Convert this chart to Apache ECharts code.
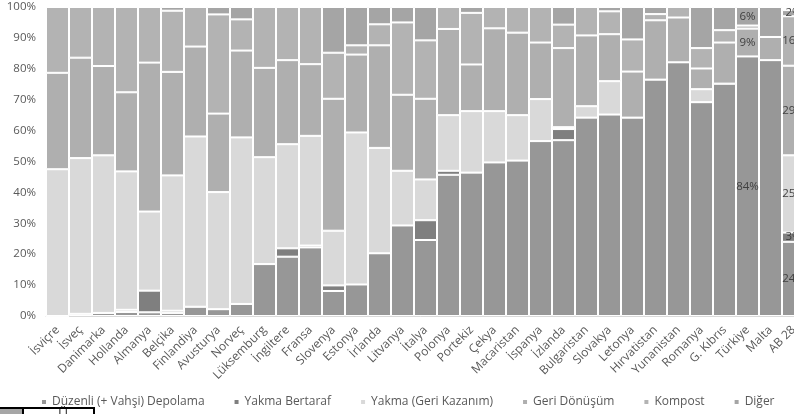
<!DOCTYPE html>
<html>
<head>
<meta charset="utf-8">
<script src="https://cdn.jsdelivr.net/npm/echarts@6/dist/echarts.min.js"></script>
<style>
  html, body { margin: 0; padding: 0; background: #fff; overflow: hidden; }
  #chart { width: 794px; height: 414px; }
</style>
</head>
<body>
<div id="chart"></div>
<script>
// Countries, left to right
var countries = ['İsviçre','İsveç','Danimarka','Hollanda','Almanya','Belçika','Finlandiya','Avusturya','Norveç','Lüksemburg','İngiltere','Fransa','Slovenya','Estonya','İrlanda','Litvanya','İtalya','Polonya','Portekiz','Çekya','Macaristan','İspanya','İzlanda','Bulgaristan','Slovakya','Letonya','Hırvatistan','Yunanistan','Romanya','G. Kıbrıs','Türkiye','Malta','AB 28'];

// Share of municipal waste by treatment method (%)
var depolama    = [0,0.7,1.0,1.3,1.2,1.0,3.0,2.2,3.9,16.8,19.2,22.2,8.1,10.2,20.3,29.3,24.6,45.7,46.4,49.7,50.3,56.6,56.9,64.2,65.2,64.2,76.5,82.1,69.2,75.2,84,82.8,24];
var yakmaBertaraf = [0,0,0,0.7,7.0,0.7,0,0,0,0,2.7,0.6,1.8,0,0,0,6.4,1.3,0,0,0,0,3.6,0,0,0,0,0,0,0,0,0,3];
var yakmaGeriKazanim = [47.5,50.4,51.0,44.8,25.6,43.8,55.1,37.9,53.9,34.6,33.7,35.5,17.7,49.2,34.1,17.7,13.2,18.0,19.9,16.6,14.7,13.6,0.6,3.7,10.8,0,0,0,4.2,0,0,0,25];
var geriDonusum = [31.2,32.5,28.9,25.6,48.2,33.5,29.1,25.4,28.1,28.9,27.2,23.2,42.7,25.2,33.2,24.6,26.1,27.9,15.1,26.8,26.7,18.3,25.6,22.9,15.2,14.9,19.2,14.5,6.7,13.3,9,7.5,29];
var kompost     = [21.3,16.4,19.1,27.6,18.0,19.8,12.8,32.1,10.1,19.7,17.2,18.5,14.9,3.0,6.8,23.4,18.9,7.1,16.7,6.9,8.3,11.5,7.6,9.2,7.4,10.4,2.0,3.4,6.6,4.0,1,0,16];
var diger       = [0,0,0,0,0,1.2,0,2.4,4.0,0,0,0,14.8,12.4,5.6,5.0,10.8,0,1.9,0,0,0,5.7,0,1.4,10.5,2.3,0,13.3,7.5,6,9.7,2];

// Bars whose segment values are printed
var labelled = {
  'Türkiye': ['Düzenli (+ Vahşi) Depolama', 'Geri Dönüşüm', 'Diğer'],
  'AB 28': ['Düzenli (+ Vahşi) Depolama', 'Yakma Bertaraf', 'Yakma (Geri Kazanım)', 'Geri Dönüşüm', 'Kompost', 'Diğer']
};

var yTicks = [0,10,20,30,40,50,60,70,80,90,100];

var seriesDefs = [
  { name: 'Düzenli (+ Vahşi) Depolama', values: depolama,        color: '#979797' },
  { name: 'Yakma Bertaraf',             values: yakmaBertaraf,   color: '#7f7f7f' },
  { name: 'Yakma (Geri Kazanım)',       values: yakmaGeriKazanim,color: '#d9d9d9' },
  { name: 'Geri Dönüşüm',               values: geriDonusum,     color: '#afafaf' },
  { name: 'Kompost',                    values: kompost,         color: '#b3b3b3' },
  { name: 'Diğer',                      values: diger,           color: '#a5a5a5' }
];

var FONT = 'Open Sans';

var series = seriesDefs.map(function (s) {
  return {
    name: s.name,
    type: 'bar',
    stack: 'total',
    barCategoryGap: '0%',
    itemStyle: { color: s.color, borderColor: '#ffffff', borderWidth: 1 },
    emphasis: { disabled: true },
    data: s.values.map(function (v, i) {
      var show = labelled[countries[i]] && labelled[countries[i]].indexOf(s.name) >= 0;
      return {
        value: v,
        label: {
          show: !!show,
          position: 'inside',
          formatter: '{c}%',
          color: '#404040',
          fontFamily: FONT,
          fontSize: 11.5
        }
      };
    })
  };
});

var chart = echarts.init(document.getElementById('chart'), null, { renderer: 'canvas' });
chart.setOption({
  animation: false,
  backgroundColor: '#ffffff',
  textStyle: { fontFamily: FONT },
  color: seriesDefs.map(function (s) { return s.color; }),
  // plot runs past the right edge of the canvas, so the last column is cut
  grid: { left: 46, top: 7, width: 759, height: 309, containLabel: false, outerBoundsMode: 'none' },
  legend: {
    top: 391,
    left: 35,
    itemWidth: 6,
    itemHeight: 6,
    itemGap: 28,
    icon: 'rect',
    textStyle: { color: '#595959', fontSize: 12, fontFamily: FONT },
    data: seriesDefs.map(function (s) { return s.name; })
  },
  xAxis: {
    type: 'category',
    data: countries,
    axisLine: { lineStyle: { color: '#d9d9d9', width: 1 } },
    axisTick: { show: false },
    axisLabel: { rotate: 45, interval: 0, color: '#595959', fontSize: 12, fontFamily: FONT, margin: 12 }
  },
  yAxis: {
    type: 'value',
    min: yTicks[0],
    max: yTicks[yTicks.length - 1],
    interval: 10,
    splitLine: { show: false },
    axisLine: { show: false },
    axisTick: { show: false },
    axisLabel: { color: '#595959', fontSize: 11.5, fontFamily: FONT, margin: 10, formatter: '{value}%' }
  },
  series: series,
  graphic: [
    { type: 'rect', shape: { x: -2, y: 408, width: 96, height: 10 }, style: { fill: '#ffffff', stroke: '#000000', lineWidth: 2 } },
    { type: 'rect', shape: { x: 0, y: 409, width: 22, height: 6 }, style: { fill: '#a6a6a6' } },
    { type: 'line', shape: { x1: 23, y1: 408, x2: 23, y2: 414 }, style: { stroke: '#000000', lineWidth: 2 } },
    { type: 'text', x: 58, y: 408, style: { text: 'Ü', fill: '#404040', font: '14px ' + FONT } }
  ]
});
</script>
</body>
</html>
